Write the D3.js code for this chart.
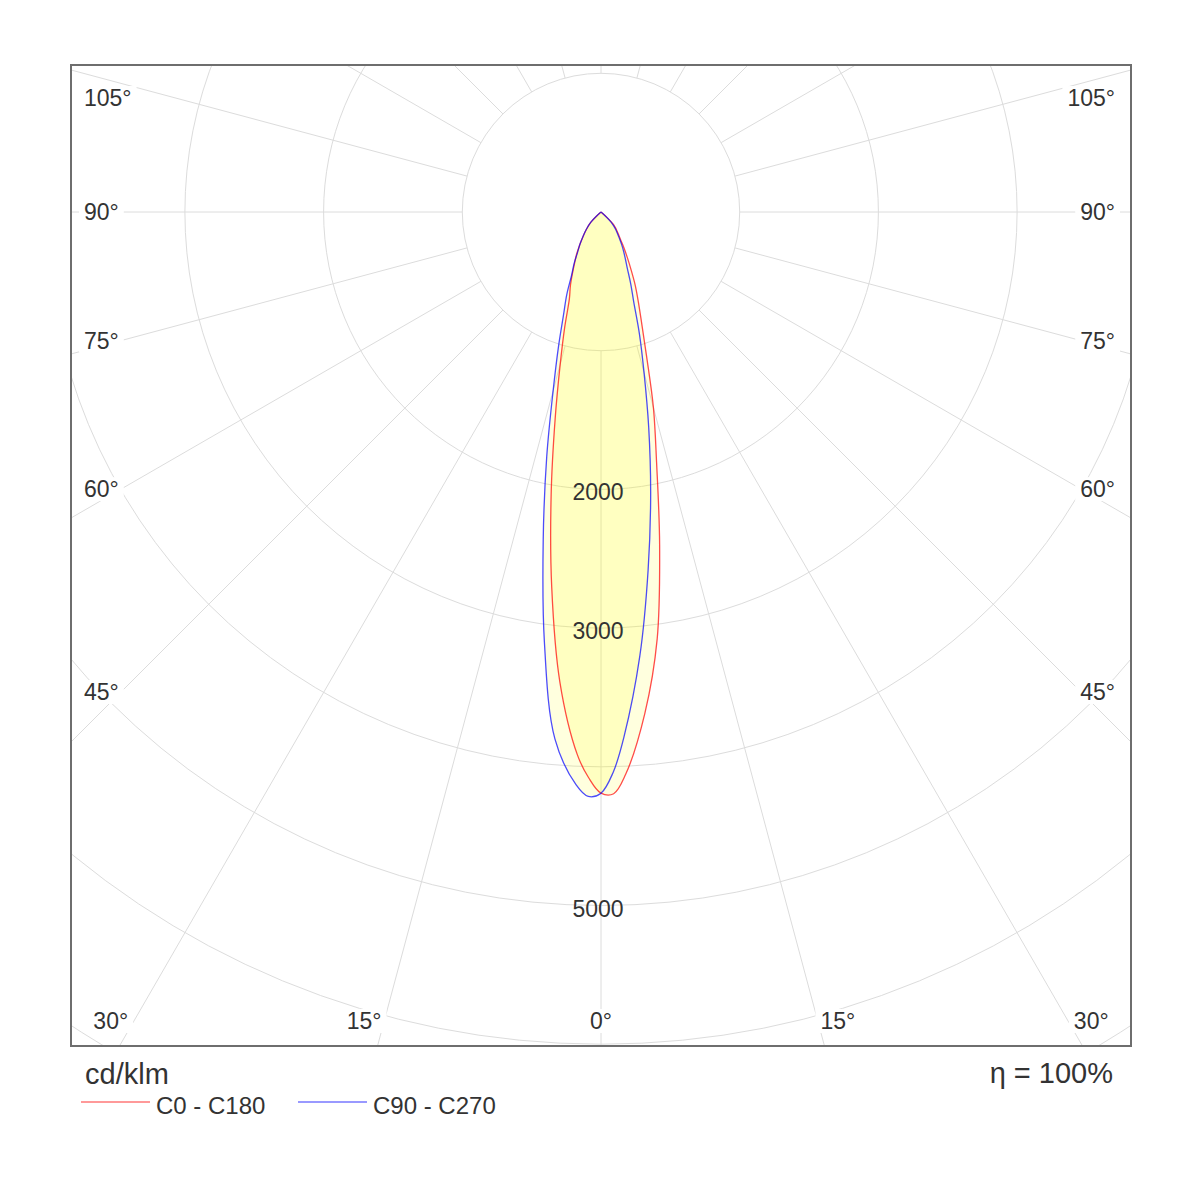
<!DOCTYPE html>
<html>
<head>
<meta charset="utf-8">
<script src="https://cdn.jsdelivr.net/npm/d3@7"></script>
<style>
  body { margin: 0; background: #fff; }
  text { font-family: "Liberation Sans", Arial, sans-serif; fill: #333; }
</style>
</head>
<body>
<svg id="chart" width="1200" height="1200"></svg>
<script>
// gamma angles in degrees, 0 = straight down
var gammas = [0, 1.25, 2.5, 5, 7.5, 10, 12.5, 15, 17.5, 20, 22.5, 25, 27.5, 30, 32.5, 35, 37.5, 40, 42.5, 45, 47.5, 50, 90, 180]

// luminous intensity, cd/klm
var c0   = [4190, 4195, 4060, 3628, 3104, 2434, 1852, 1460, 1095, 860, 705, 585, 470, 380, 310, 250, 210, 180, 155, 125, 60, 0, 0, 0]
var c180 = [4190, 4080, 3916, 3402, 2724, 2070, 1527, 1136, 870, 667, 577, 486, 411, 352, 292, 240, 200, 165, 135, 105, 50, 0, 0, 0]
var c90  = [4190, 4040, 3790, 3213, 2603, 2062, 1589, 1199, 921, 690, 560, 450, 380, 325, 275, 230, 195, 165, 135, 105, 50, 0, 0, 0]
var c270 = [4190, 4215, 4133, 3813, 3127, 2399, 1808, 1333, 1020, 790, 645, 500, 420, 340, 290, 240, 200, 165, 135, 105, 50, 0, 0, 0]

var rings = [1000, 2000, 3000, 4000, 5000, 6000, 7000]
var ringLabels = [2000, 3000, 5000]
var spokes = d3.range(0, 360, 15)
var sideLabels = [45, 60, 75, 90, 105]
var bottomLabels = [0, 15, 30]

var unitText = "cd/klm"
var etaText = "\u03b7 = 100%"
var seriesNames = ["C0 - C180", "C90 - C270"]
var seriesColors = ["#ff0000", "#0000ff"]

var svg = d3.select("#chart")
var box = { x0: 71, y0: 65, x1: 1131, y1: 1046 }
var cx = (box.x0 + box.x1) / 2, cy = 212
var r = d3.scaleLinear().domain([0, 1000]).range([0, 138.7])
var rad = Math.PI / 180

svg.append("clipPath").attr("id", "boxclip")
  .append("rect")
  .attr("x", box.x0).attr("y", box.y0)
  .attr("width", box.x1 - box.x0).attr("height", box.y1 - box.y0)

var plot = svg.append("g").attr("clip-path", "url(#boxclip)")
var g = plot.append("g").attr("transform", "translate(" + cx + "," + cy + ")")

// grid circles
g.selectAll(".ring")
  .data(rings)
  .enter().append("circle")
  .attr("class", "ring")
  .attr("r", d => r(d))
  .attr("fill", "none")
  .attr("stroke", "#dcdcdc")
  .attr("stroke-width", 1)

// spokes, from the first ring outwards (angle 0 points down)
g.selectAll(".spoke")
  .data(spokes)
  .enter().append("line")
  .attr("class", "spoke")
  .attr("x1", d => r(1000) * Math.sin(d * rad))
  .attr("y1", d => r(1000) * Math.cos(d * rad))
  .attr("x2", d => r(8000) * Math.sin(d * rad))
  .attr("y2", d => r(8000) * Math.cos(d * rad))
  .attr("stroke", "#dcdcdc")
  .attr("stroke-width", 1)

// build a closed curve: left half (C180 / C270) then right half (C0 / C90)
function curvePoints(right, left) {
  var pts = []
  for (var i = gammas.length - 1; i >= 0; i--) pts.push([Math.PI + gammas[i] * rad, r(left[i])])
  for (var j = 1; j < gammas.length; j++) pts.push([Math.PI - gammas[j] * rad, r(right[j])])
  return pts
}

var line = d3.lineRadial()
  .angle(d => d[0])
  .radius(d => d[1])
  .curve(d3.curveCatmullRom.alpha(0.5))

var curves = [curvePoints(c0, c180), curvePoints(c90, c270)]

g.selectAll(".fill")
  .data(curves)
  .enter().append("path")
  .attr("class", "fill")
  .attr("d", line)
  .attr("fill", "#ffff00")
  .attr("fill-opacity", 0.13)
  .attr("stroke", "none")

g.selectAll(".curve")
  .data(curves)
  .enter().append("path")
  .attr("class", "curve")
  .attr("d", line)
  .attr("fill", "none")
  .attr("stroke", (d, i) => seriesColors[i])
  .attr("stroke-opacity", 0.7)
  .attr("stroke-width", 1.3)

// ring values along the 0 axis
g.selectAll(".rlabel")
  .data(ringLabels)
  .enter().append("text")
  .attr("class", "rlabel")
  .attr("x", -3)
  .attr("y", d => r(d) + 3)
  .attr("dy", "0.35em")
  .attr("text-anchor", "middle")
  .style("font-size", "23px")
  .text(d => d)

// angle labels with white backing
var angleLabels = []
sideLabels.forEach(a => {
  var y = cy + 480 * Math.cos(a * rad) / Math.sin(a * rad)
  y = Math.max(y, box.y0 + 33)
  angleLabels.push({ text: a + "\u00b0", x: box.x0 + 13, y: y, anchor: "start", base: "0.35em" })
  angleLabels.push({ text: a + "\u00b0", x: box.x1 - 16, y: y, anchor: "end", base: "0.35em" })
})
bottomLabels.forEach(a => {
  var off = (1031 - cy) * Math.tan(a * rad)
  if (a === 0) {
    angleLabels.push({ text: a + "\u00b0", x: cx, y: 1029, anchor: "middle", base: "0" })
  } else {
    angleLabels.push({ text: a + "\u00b0", x: cx - off, y: 1029, anchor: "end", base: "0" })
    angleLabels.push({ text: a + "\u00b0", x: cx + off, y: 1029, anchor: "start", base: "0" })
  }
})

var al = svg.selectAll(".alabel")
  .data(angleLabels)
  .enter().append("g")
  .attr("class", "alabel")

al.append("rect").attr("fill", "#fff")
al.append("text")
  .attr("x", d => d.x)
  .attr("y", d => d.y)
  .attr("dy", d => d.base)
  .attr("text-anchor", d => d.anchor)
  .style("font-size", "23px")
  .text(d => d.text)

al.each(function () {
  var t = d3.select(this).select("text").node().getBBox()
  d3.select(this).select("rect")
    .attr("x", t.x - 5).attr("y", t.y + 1)
    .attr("width", t.width + 10).attr("height", t.height - 2)
})

// frame
svg.append("rect")
  .attr("x", box.x0).attr("y", box.y0)
  .attr("width", box.x1 - box.x0).attr("height", box.y1 - box.y0)
  .attr("fill", "none")
  .attr("stroke", "#6e6e6e")
  .attr("stroke-width", 2)

// units and efficiency
svg.append("text")
  .attr("x", box.x0 + 14).attr("y", 1084)
  .style("font-size", "29px")
  .text(unitText)

svg.append("text")
  .attr("x", box.x1 - 18).attr("y", 1083)
  .attr("text-anchor", "end")
  .style("font-size", "29px")
  .text(etaText)

// legend
var legend = svg.selectAll(".legend")
  .data(seriesNames)
  .enter().append("g")
  .attr("class", "legend")
  .attr("transform", (d, i) => "translate(" + (81 + i * 217) + ",1102)")

legend.append("line")
  .attr("x1", 0).attr("x2", 69)
  .attr("stroke", (d, i) => seriesColors[i])
  .attr("stroke-opacity", 0.4)
  .attr("stroke-width", 2)

legend.append("text")
  .attr("x", 75).attr("y", 12)
  .style("font-size", "24px")
  .text(d => d)
</script>
</body>
</html>
